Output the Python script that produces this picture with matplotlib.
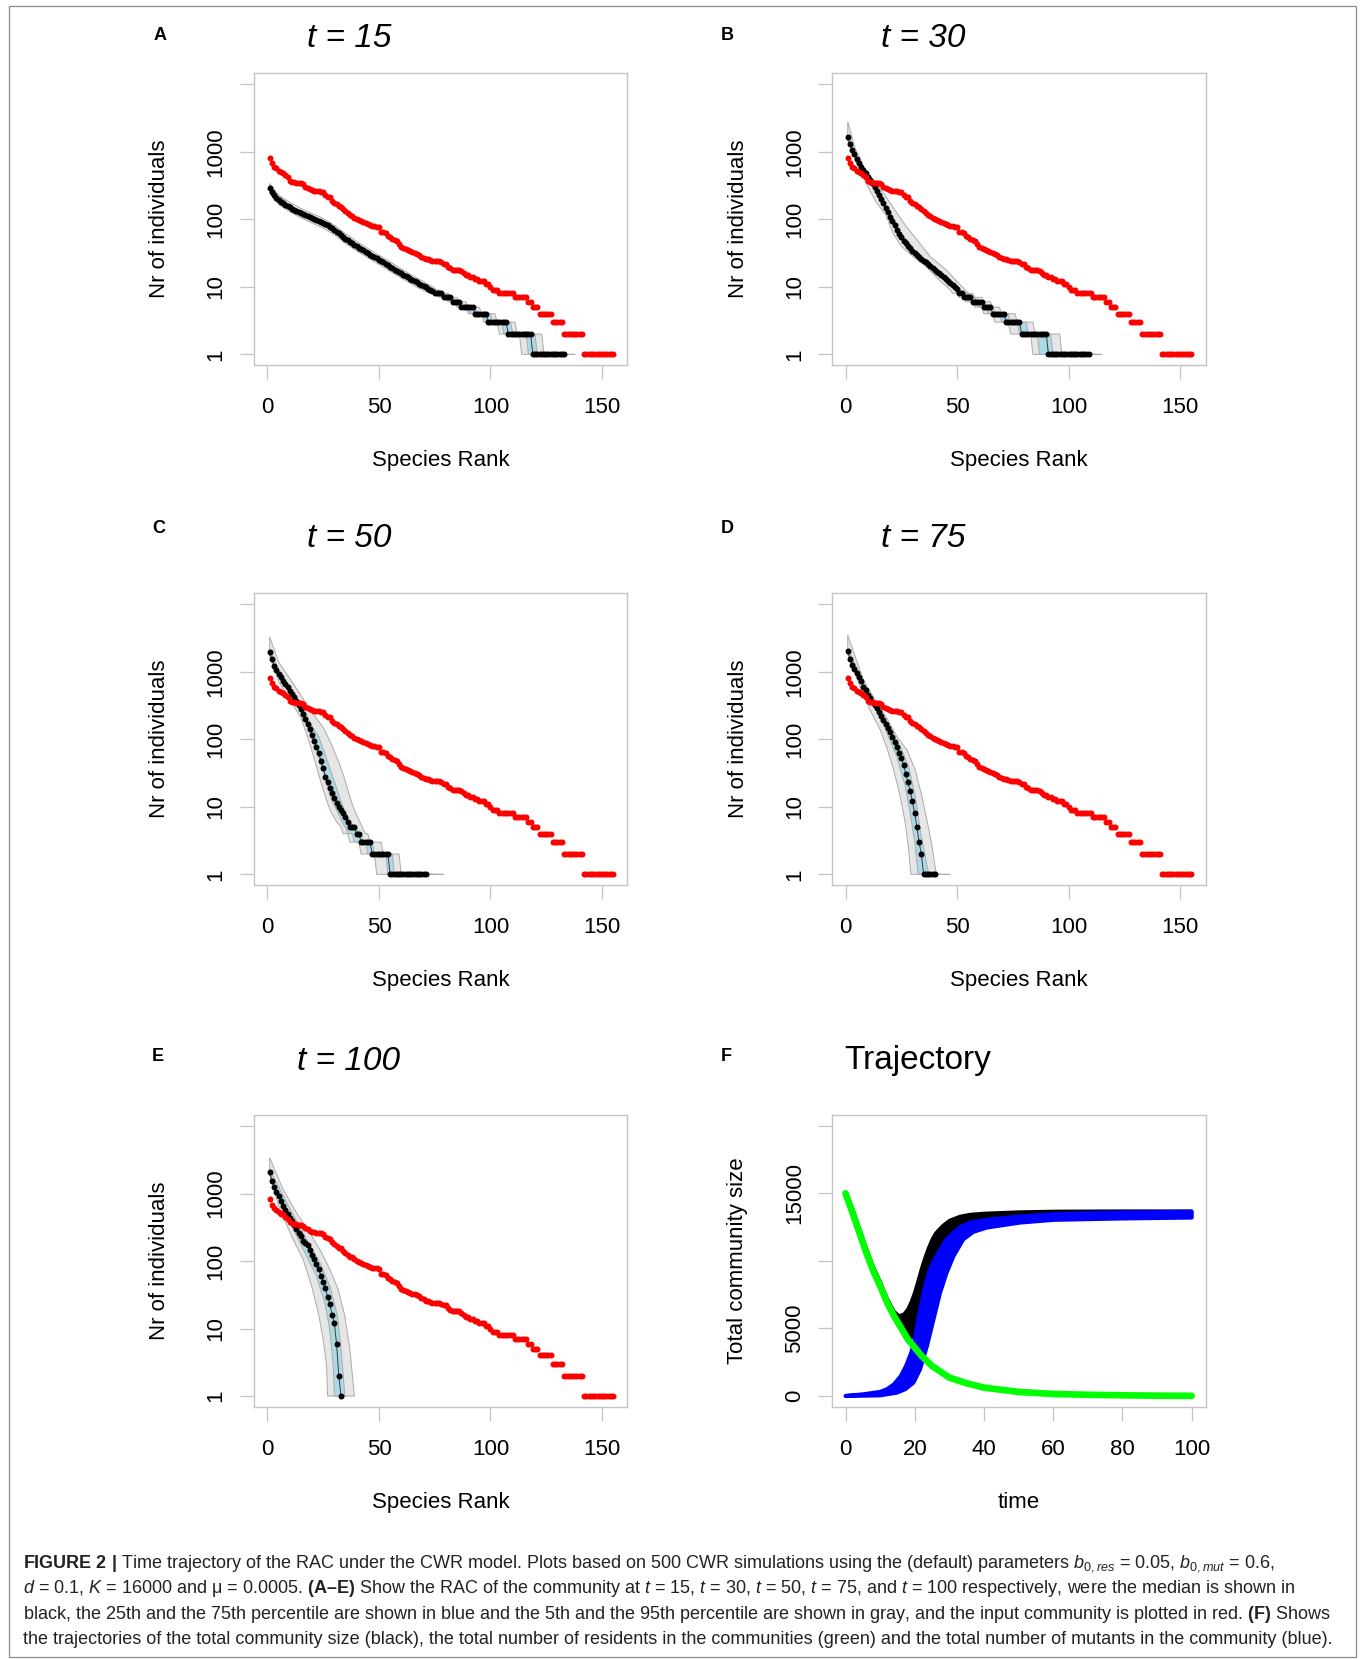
import numpy as np
import matplotlib
matplotlib.use('Agg')
import matplotlib.pyplot as plt
from matplotlib import font_manager
from matplotlib.patches import Rectangle

W, H = 1362, 1659
names = {f.name for f in font_manager.fontManager.ttflist}
MAIN = 'Liberation Sans' if 'Liberation Sans' in names else 'DejaVu Sans'
CAP = 'Liberation Sans Narrow' if 'Liberation Sans Narrow' in names else MAIN

plt.rcParams['font.family'] = [MAIN, 'DejaVu Sans']
plt.rcParams['mathtext.fontset'] = 'custom'
plt.rcParams['mathtext.rm'] = CAP
plt.rcParams['mathtext.it'] = CAP + ':italic'
plt.rcParams['mathtext.bf'] = CAP + ':bold'

# ---------------- data ----------------
# input community (red), abundance by rank 1..155
input_community = [
    820, 675, 600, 570, 525, 497, 490, 454, 419, 374,
    360, 355, 350, 346, 341, 333, 306, 294, 278, 271,
    265, 260, 260, 256, 250, 229, 217, 211, 189, 177,
    167, 158, 154, 142, 133, 123, 116, 113, 106, 101,
    97, 95, 90, 87, 84, 82, 80, 79, 78, 76,
    64, 64, 62, 57, 54, 51, 49, 47, 43, 39,
    37, 36, 35, 34, 33, 32, 31, 30, 28, 27,
    26, 26, 25, 24, 24, 24, 24, 23, 22, 22,
    20, 19, 18, 18, 18, 18, 17, 16, 15, 15,
    14, 14, 13, 13, 12, 12, 12, 11, 11, 10,
    9, 9, 9, 8, 8, 8, 8, 8, 8, 8,
    7, 7, 7, 7, 7, 7, 6, 6, 5, 5,
    5, 4, 4, 4, 4, 4, 4, 3, 3, 3,
    3, 3, 2, 2, 2, 2, 2, 2, 2, 2,
    2, 1, 1, 1, 1, 1, 1, 1, 1, 1,
    1, 1, 1, 1, 1]

median_t15 = [
    288, 257, 229, 205, 193, 183, 173, 165, 158, 151,
    144, 137, 131, 127, 123, 119, 115, 111, 107, 103,
    100, 97, 94, 90, 87, 84, 81.5, 78, 73.6, 69.5,
    65.6, 62, 58, 54.7, 51.6, 48.8, 46, 44, 42, 40,
    38, 36, 34.6, 33, 31.6, 30, 28.9, 27.7, 26.5, 25,
    24, 23, 22, 21, 20, 19, 18, 17.3, 16.6, 15.8,
    15, 14.5, 13.8, 13.2, 12.6, 12, 11.6, 11, 10.8, 10.3,
    10, 9.4, 9, 8.6, 8, 8, 8, 8, 7, 7,
    7, 7, 6, 6, 6, 6, 5, 5, 5, 5,
    5, 5, 4, 4, 4, 4, 4, 4, 3, 3,
    3, 3, 3, 3, 3, 3, 3, 2, 2, 2,
    2, 2, 2, 2, 2, 2, 2, 2, 1, 1,
    1, 1, 1, 1, 1, 1, 1, 1, 1, 1,
    1, 1, 1]
q05_t15 = [(1,245),(5,165),(10,130),(15,105),(20,88),(25,74),(30,59),(35,44),(40,34),(45,27),
           (50,21.5),(55,17),(60,13.5),(65,10.8),(70,8.8),(72,8.2),(73,8),(76,8),(77,7),(80,7),
           (81,6),(84,6),(85,5),(89,5),(90,4),(96,4),(97,3),(103,3),(104,2),(113,2),(114,1),(138,1)]
q95_t15 = [(1,340),(5,228),(10,178),(15,145),(20,122),(25,103),(30,82),(35,61),(40,47),(45,37),
           (50,29.5),(55,23.5),(60,18.5),(65,14.7),(70,12),(74,10),(76,9),(77,9),(78,8),(81,8),
           (82,7),(85,7),(86,6),(89,6),(90,5),(95,5),(96,4),(102,4),(103,3),(111,3),(112,2),
           (123,2),(124,1),(138,1)]
q25_t15 = [(1,272),(10,143),(20,97),(30,65),(40,37.5),(50,23.5),(60,14.8),(70,9.6),(73,8.6),(74,8),
           (77,8),(78,7),(81,7),(82,6),(85,6),(86,5),(90,5),(91,4),(97,4),(98,3),(105,3),(106,2),
           (116,2),(117,1),(134,1)]
q75_t15 = [(1,305),(10,160),(20,109),(30,74),(40,43),(50,27),(60,17),(70,11.2),(75,9),(76,8),
           (79,8),(80,7),(83,7),(84,6),(87,6),(88,5),(93,5),(94,4),(100,4),(101,3),(109,3),(110,2),
           (120,2),(121,1),(134,1)]

median_t30 = [
    1678, 1291, 1064, 918, 783, 676, 603, 538, 480, 429,
    383, 341, 298, 266, 229, 198, 173, 149, 127, 110,
    94, 81, 69.5, 60.6, 54, 48, 44, 40, 37, 34,
    32, 29.6, 28, 26, 24.4, 23, 21.8, 20.4, 19, 17.8,
    16.8, 15.8, 14.8, 13.8, 12.9, 12, 11.4, 10.6, 10, 9.2,
    8, 8, 7, 7, 7, 7, 6, 6, 6, 6,
    6, 5, 5, 5, 5, 4, 4, 4, 4, 4,
    4, 3, 3, 3, 3, 3, 3, 3, 2, 2,
    2, 2, 2, 2, 2, 2, 2, 2, 2, 2,
    1, 1, 1, 1, 1, 1, 1, 1, 1, 1,
    1, 1, 1, 1, 1, 1, 1, 1, 1]
q05_t30 = [(1,1450),(2,1190),(5,676),(9,350),(14,173),(18,118),(21,65),(25,40),(30,28.5),(36,20),
           (42,12.6),(47,9),(48,8),(50,8),(51,7),(53,7),(54,6),(57,6),(58,5),(61,5),(62,4),(66,4),
           (67,3),(73,3),(74,2),(83,2),(84,1),(115,1)]
q95_t30 = [(1,2800),(4,1200),(8,600),(12,400),(17,245),(23,125),(27,80),(32,50),(38,28),(45,18),
           (50,12),(53,9.5),(55,8),(57,8),(58,7),(61,7),(62,6),(65,6),(66,5),(69,5),(70,4),(76,4),
           (77,3),(84,3),(85,2),(96,2),(97,1),(115,1)]
q25_t30 = [(1,1550),(5,740),(10,400),(15,210),(20,100),(25,50),(30,31),(35,22),(40,16.5),(45,12),
           (50,8.5),(52,8),(53,7),(55,7),(56,6),(59,6),(60,5),(63,5),(64,4),(69,4),(70,3),(77,3),
           (78,2),(86,2),(87,1),(110,1)]
q75_t30 = [(1,1800),(5,850),(10,470),(15,250),(20,125),(25,62),(30,37),(35,26.5),(40,19.2),(45,14),
           (50,10),(53,8),(55,8),(56,7),(58,7),(59,6),(62,6),(63,5),(66,5),(67,4),(73,4),(74,3),
           (81,3),(82,2),(92,2),(93,1),(112,1)]

median_t50 = [
    1990, 1530, 1230, 1060, 930, 830, 730, 650, 590, 525,
    470, 420, 370, 323, 278, 237, 200, 169, 141, 116,
    95, 78, 62, 48, 37, 28, 23, 19, 16, 13.5,
    11.5, 10, 9, 8, 7, 6, 5, 5, 5, 4,
    4, 3, 3, 3, 3, 3, 2, 2, 2, 2,
    2, 2, 2, 2, 1, 1, 1, 1, 1, 1,
    1, 1, 1, 1, 1, 1, 1, 1, 1, 1,
    1]
q05_t50 = [(1,1700),(5,720),(10,390),(15,210),(19,87),(22,39),(25,17.8),(28,9),(31,6),(33,5),
           (34,4),(36,4),(37,3),(41,3),(42,2),(48,2),(49,1),(79,1)]
q95_t50 = [(1,3300),(5,1400),(10,800),(15,450),(20,250),(25,150),(28,95),(30,66),(32,46),(34,30),
           (36,18),(38,11),(40,7.5),(42,5.5),(43,4.6),(44,4),(45,4),(46,3),(51,3),(52,2),(59,2),
           (60,1),(79,1)]
q25_t50 = [(1,1850),(5,850),(10,480),(13,341),(16,210),(19,125),(21,85),(23,55),(25,33),(26.5,22),
           (28,15),(29.5,11.3),(31,9),(32.5,7.1),(34,5.5),(35,5),(36,4),(38,4),(39,3),(44,3),
           (45,2),(53,2),(54,1),(72,1)]
q75_t50 = [(1,2200),(5,1050),(10,580),(13,429),(16,290),(20,154),(23,110),(26,58),(29,30),(32,15),
           (35,8),(37,6),(38,5.5),(40,5),(41,4),(42,4),(43,3),(47,3),(48,2),(56,2),(57,1),(75,1)]

median_t75 = [
    2057, 1550, 1263, 1089, 950, 840, 720, 603, 530, 460,
    405, 360, 320, 288, 255, 222, 193, 168, 148, 130,
    110, 90, 78, 63, 52, 42, 31, 23, 17.4, 12,
    8, 5, 3, 2, 1, 1, 1, 1, 1, 1]
q05_t75 = [(1,1800),(6.6,600),(11,272),(15.6,137),(18.6,74),(21.6,35),(24.6,14),(26.8,5.7),
           (28.3,2.3),(29.3,1),(47,1)]
q95_t75 = [(1,3500),(8,757),(13.3,383),(18.6,205),(23,110),(27.5,70),(31.3,35),(34.3,14),
           (36.5,6.4),(38.8,2.6),(40.7,1),(47,1)]
q25_t75 = [(1,1950),(10,430),(15,232),(18.6,123),(23,55),(26.8,20),(29,8),(31.3,2.6),(32.5,1),(41,1)]
q75_t75 = [(1,2200),(10,500),(15,290),(20,140),(24.6,78),(28.3,39),(31.3,14),(33.5,4.5),
           (35.8,1.8),(37.3,1),(41,1)]

median_t100 = [
    2083, 1530, 1250, 1050, 918, 770, 653, 570, 500, 440,
    390, 340, 295, 262, 232, 198, 185, 170, 146, 123,
    106, 89, 77, 60, 49, 40, 29, 23, 16, 12,
    6, 2, 1]
q05_t100 = [(1,1900),(5.5,583),(11.5,209),(16,106),(19.8,42.6),(22.8,17.2),(25,6.9),(26.5,2.8),
            (27,1),(39,1)]
q95_t100 = [(1,3400),(7,1153),(13,520),(19,263),(24.3,133),(28,75),(31.7,38),(34.7,15.3),
            (37,4.9),(39,1)]
q25_t100 = [(1,2000),(8,520),(16,150),(22,60),(25.7,24),(27.5,12),(28.5,6.5),(29.5,2.8),(30,1),(35,1)]
q75_t100 = [(1,2300),(10,600),(18.3,190),(23.5,95),(28,42.6),(31.4,15.3),(32.9,5.5),(34,2),
            (34.7,1),(35,1)]

# Trajectory panel (envelopes of the 500 simulated trajectories)
time_total_hi = [0, 2, 4, 6, 8, 10, 12, 14, 15.5, 17, 18, 19, 20, 21, 22, 23, 24, 25, 26, 28,
                 30, 33, 36, 40, 50, 60, 80, 100]
total_hi = [15000, 13930, 12450, 10970, 9610, 8500, 7260, 6280, 5926, 6100, 6450, 7000, 7700,
            8600, 9500, 10300, 11000, 11600, 12050, 12600, 13000, 13300, 13450, 13530, 13630,
            13680, 13700, 13700]
time_total_lo = [0, 2, 4, 6, 8, 10, 12, 14, 16, 18, 19, 20, 21, 22, 24, 26, 28, 30, 35, 40, 50,
                 60, 100]
total_lo = [14950, 13500, 12050, 10550, 9200, 8100, 6900, 5950, 5150, 4550, 4330, 4400, 5000,
            6000, 8000, 10000, 11300, 12100, 12900, 13200, 13450, 13550, 13650]
time_mut_hi = [0, 5, 10, 12, 14, 16, 17.5, 19, 20, 21, 22, 23, 24.4, 26.3, 29.2, 33, 36, 40.8,
               50, 60, 79, 100]
mutants_hi = [0, 120, 300, 500, 860, 1480, 2220, 3210, 4200, 5680, 6910, 8150, 9380, 10370,
              11600, 12470, 12840, 13040, 13280, 13460, 13580, 13630]
time_mut_lo = [0, 10, 14.8, 17.2, 19.6, 21.5, 23.5, 25.4, 27.3, 29.2, 31.2, 34, 36.9, 40.8, 50.4,
               60, 79, 100]
mutants_lo = [0, 50, 250, 500, 990, 1975, 3700, 5680, 7650, 9140, 10370, 11600, 12150, 12470,
              12840, 13040, 13140, 13210]
time_res = [0, 2, 4, 6, 8, 10, 12, 14, 16, 18, 20, 22, 25, 30, 35, 40, 50, 60, 70, 80, 90, 100]
residents = [15000, 13580, 12100, 10620, 9260, 8150, 6910, 5926, 5060, 4200, 3580, 2960, 2220,
             1360, 940, 620, 300, 150, 90, 50, 25, 10]

panel_titles = ['t = 15', 't = 30', 't = 50', 't = 75', 't = 100']
panel_letters = ['A', 'B', 'C', 'D', 'E', 'F']
rank_ticks = [0, 50, 100, 150]
abund_ticks = [1, 10, 100, 1000, 10000]
abund_labels = ['1', '10', '100', '1000', '']
time_ticks = [0, 20, 40, 60, 80, 100]
size_ticks = [0, 5000, 10000, 15000, 20000]
size_labels = ['0', '5000', '', '15000', '']

# ---------------- layout ----------------
fig = plt.figure(figsize=(W / 100, H / 100), dpi=100)

def fx(x):
    return x / W

def fy(y):
    return 1 - y / H

col_left = [253.6, 831.7]
row_top = [73.3, 593.3, 1115.0]
AW, AH = 373.8, 291.8

GRAY_TICK = '#c4c4c4'

def make_ax(r, c):
    ax = fig.add_axes([fx(col_left[c]), fy(row_top[r] + AH), AW / W, AH / H])
    for s in ax.spines.values():
        s.set_color(GRAY_TICK)
        s.set_linewidth(1.0)
    ax.tick_params(length=9.9, width=0.9, color=GRAY_TICK, labelsize=16, direction='out')
    ax.tick_params(axis='x', pad=13)
    ax.tick_params(axis='y', pad=9.5, labelrotation=90)
    return ax

def finish_y(ax):
    for lab in ax.get_yticklabels():
        lab.set_va('center')

def band(ax, lo, hi, fc, z):
    xs = [p[0] for p in lo] + [p[0] for p in hi[::-1]]
    ys = [p[1] for p in lo] + [p[1] for p in hi[::-1]]
    ax.fill(xs, ys, facecolor=fc, edgecolor='#ababab', lw=0.7, zorder=z)

rac = [
    (median_t15, q05_t15, q25_t15, q75_t15, q95_t15),
    (median_t30, q05_t30, q25_t30, q75_t30, q95_t30),
    (median_t50, q05_t50, q25_t50, q75_t50, q95_t50),
    (median_t75, q05_t75, q25_t75, q75_t75, q95_t75),
    (median_t100, q05_t100, q25_t100, q75_t100, q95_t100),
]
title_pos = [(349, 46.7), (922.8, 46.7), (349, 547.2), (922.8, 547.2), (349, 1070), (917.6, 1069)]
letter_pos = [(160.3, 40), (727, 40), (158.7, 533), (727, 533), (157.7, 1061), (726, 1061)]

for i, (med, q05, q25, q75, q95) in enumerate(rac):
    r, c = divmod(i, 2)
    ax = make_ax(r, c)
    ax.set_yscale('log')
    band(ax, q05, q95, '#e6e6e6', 1)
    band(ax, q25, q75, '#add8e6', 2)
    ranks = np.arange(1, len(med) + 1)
    ax.plot(ranks, med, color='#3a3a3a', lw=0.7, zorder=3)
    ax.plot(ranks, med, 'o', color='black', ms=4.3, mew=0, zorder=4)
    ax.plot(np.arange(1, len(input_community) + 1), input_community, 'o', color='red',
            ms=4.3, mew=0, zorder=5)
    ax.set_xlim(-6.2, 161.4)
    ax.set_ylim(0.693, 14550)
    ax.set_xticks(rank_ticks)
    ax.set_xticklabels([str(v) for v in rank_ticks])
    ax.set_yticks(abund_ticks)
    ax.set_yticklabels(abund_labels)
    ax.minorticks_off()
    finish_y(ax)
    x0 = col_left[c]
    ytop = row_top[r]
    fig.text(fx(x0 + AW / 2), fy(ytop + AH + 95.4), 'Species Rank', ha='center', va='center',
             fontsize=16)
    fig.text(fx(x0 - 93.7), fy(ytop + AH / 2), 'Nr of individuals', ha='center', va='center',
             rotation=90, fontsize=16)
    fig.text(fx(title_pos[i][0]), fy(title_pos[i][1]), panel_titles[i], ha='center',
             va='baseline', fontsize=24, style='italic')

# trajectory panel
ax = make_ax(2, 1)
ax.fill(time_total_lo + time_total_hi[::-1], total_lo + total_hi[::-1], facecolor='black',
        edgecolor='black', lw=2.2, joinstyle='round', zorder=1)
ax.fill(time_mut_lo + time_mut_hi[::-1], mutants_lo + mutants_hi[::-1], facecolor='#0000ff',
        edgecolor='#0000ff', lw=3.0, joinstyle='round', zorder=2)
ax.plot(time_res, residents, color='#00ff00', lw=4.8, solid_capstyle='round', zorder=3)
ax.set_xlim(-4, 104)
ax.set_ylim(-800, 20800)
ax.set_xticks(time_ticks)
ax.set_xticklabels([str(v) for v in time_ticks])
ax.set_yticks(size_ticks)
ax.set_yticklabels(size_labels)
finish_y(ax)
fig.text(fx(col_left[1] + AW / 2), fy(row_top[2] + AH + 95.4), 'time', ha='center', va='center',
         fontsize=16)
fig.text(fx(col_left[1] - 93.7), fy(row_top[2] + AH / 2), 'Total community size', ha='center',
         va='center', rotation=90, fontsize=16)
fig.text(fx(title_pos[5][0]), fy(title_pos[5][1]), 'Trajectory', ha='center', va='baseline',
         fontsize=24)

for i, L in enumerate(panel_letters):
    fig.text(fx(letter_pos[i][0]), fy(letter_pos[i][1]), L, ha='center', va='baseline',
             fontsize=13, fontweight='bold')

# frame
fig.add_artist(Rectangle((fx(8.5), fy(1657)), (1355.6 - 8.5) / W, (1657 - 6.3) / H,
                         transform=fig.transFigure, fill=False, edgecolor='#8a8a8a', lw=0.9))

# caption
caption_lines = [
    r"$\mathbf{FIGURE\ 2\ |}$ Time trajectory of the RAC under the CWR model. Plots based on 500 CWR simulations using the (default) parameters $b_{0,res}$ = 0.05, $b_{0,mut}$ = 0.6,",
    r"$d$ = 0.1, $K$ = 16000 and μ = 0.0005. $\mathbf{(A–E)}$ Show the RAC of the community at $t$ = 15, $t$ = 30, $t$ = 50, $t$ = 75, and $t$ = 100 respectively, were the median is shown in",
    r"black, the 25th and the 75th percentile are shown in blue and the 5th and the 95th percentile are shown in gray, and the input community is plotted in red. $\mathbf{(F)}$ Shows",
    "the trajectories of the total community size (black), the total number of residents in the communities (green) and the total number of mutants in the community (blue).",
]
cap_base = [1568, 1593.4, 1618.8, 1644.2]
cap_texts = []
for i, line in enumerate(caption_lines):
    t = fig.text(fx(23.3), fy(cap_base[i]), line, fontsize=14, family=[CAP, 'DejaVu Sans'],
                 ha='left', va='baseline', color='#222222')
    cap_texts.append(t)
renderer = fig.canvas.get_renderer()
w3 = cap_texts[2].get_window_extent(renderer).width
scale = 1316.0 / w3
for t in cap_texts:
    t.set_fontsize(14 * scale)

fig.savefig('out.png', dpi=100)
